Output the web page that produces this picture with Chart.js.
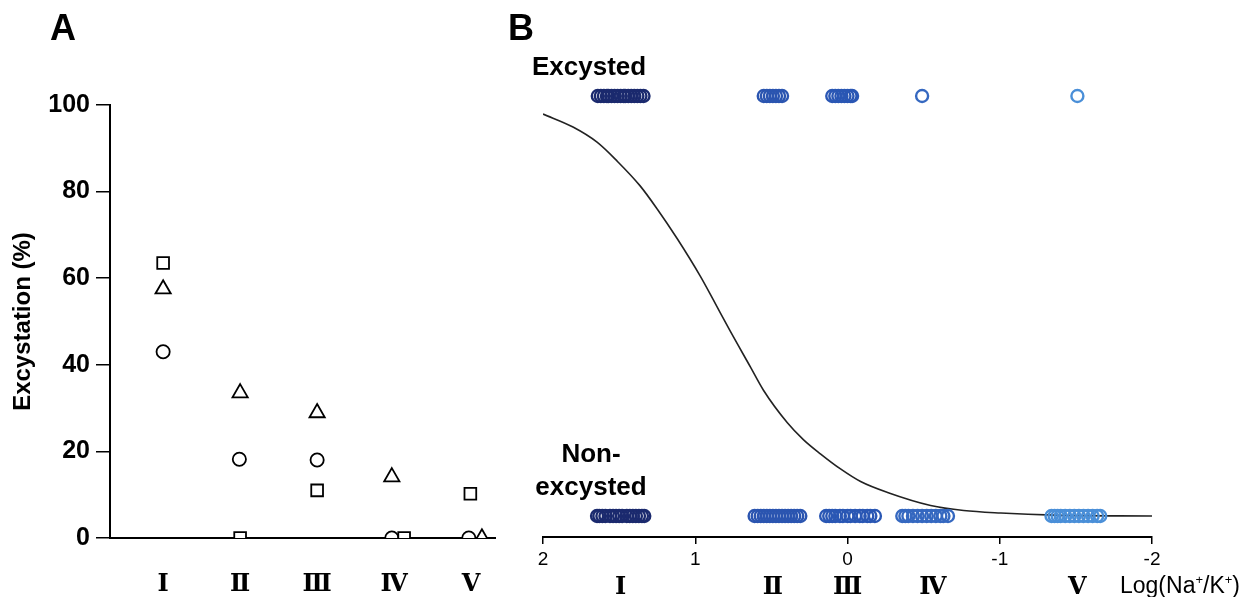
<!DOCTYPE html>
<html>
<head>
<meta charset="utf-8">
<script src="https://cdn.jsdelivr.net/npm/chart.js@4"></script>
<style>
  body { margin: 0; background: #fff; width: 1258px; height: 597px; position: relative; overflow: hidden; font-family: 'Liberation Sans', Arial, sans-serif; }
  .caja { position: absolute; top: 0; height: 597px; }
  .texto { position: absolute; color: #000; white-space: nowrap; }
  .letra { font-size: 36px; line-height: 36px; font-weight: bold; }
  .etiqueta { font-size: 26px; line-height: 26px; font-weight: bold; }
</style>
</head>
<body>
<div class="caja" style="left:0; width:520px;"><canvas id="graficoA"></canvas></div>
<div class="caja" style="left:520px; width:738px;"><canvas id="graficoB"></canvas></div>

<div class="texto letra" style="left:50px; top:10px;">A</div>
<div class="texto letra" style="left:508px; top:10px;">B</div>
<div class="texto etiqueta" style="left:532px; top:53px;">Excysted</div>
<div class="texto etiqueta" style="left:520px; top:437px; width:142px; text-align:center; line-height:33px;">Non-<br>excysted</div>
<div class="texto" style="left:1120px; top:569px; font-size:23px; line-height:22px;">Log(Na<sup style="font-size:13px;">+</sup>/K<sup style="font-size:13px;">+</sup>)</div>

<script>
// etapas
const etapas = ['Ⅰ', 'Ⅱ', 'Ⅲ', 'Ⅳ', 'Ⅴ'];
const posEtapasA = [1, 2, 3, 4, 5];
const ticksY_A = [0, 20, 40, 60, 80, 100];

// panel A: tres replicas
const cuadradoX = [1, 2, 3, 4.13, 4.99];
const cuadradoY = [63.5, 0, 11, 0, 10.2];
const trianguloX = [1, 2, 3, 3.97, 5.14];
const trianguloY = [57.5, 33.5, 28.9, 14.1, 0];
const circuloX = [1, 1.99, 3, 3.97, 4.97];
const circuloY = [43, 18.2, 18, 0, 0];

// panel B: Log(Na+/K+) de cada quiste
const ticksX_B = [2, 1, 0, -1, -2];
const posEtapasB = [1.49, 0.49, 0.0, -0.56, -1.51];
const excI = [1.64, 1.62, 1.60, 1.58, 1.57, 1.55, 1.53, 1.51, 1.49, 1.47, 1.46, 1.44, 1.42, 1.40, 1.38, 1.36, 1.34];
const noExcI = [1.645, 1.63, 1.61, 1.59, 1.56, 1.54, 1.52, 1.50, 1.48, 1.45, 1.43, 1.41, 1.39, 1.37, 1.35, 1.335];
const excII = [0.55, 0.53, 0.51, 0.49, 0.47, 0.45, 0.43];
const noExcII = [0.61, 0.59, 0.57, 0.55, 0.53, 0.51, 0.49, 0.47, 0.45, 0.43, 0.41, 0.39, 0.37, 0.35, 0.33, 0.31];
const excIII = [0.10, 0.08, 0.06, 0.04, 0.02, 0.0, -0.02, -0.03];
const noExcIII = [0.14, 0.12, 0.10, 0.08, 0.05, 0.03, 0.0, -0.02, -0.05, -0.08, -0.10, -0.13, -0.15, -0.18];
const excIV = [-0.49];
const noExcIV = [-0.36, -0.38, -0.40, -0.43, -0.46, -0.49, -0.52, -0.55, -0.58, -0.61, -0.63, -0.66];
const excV = [-1.51];
const noExcV = [-1.34, -1.36, -1.38, -1.40, -1.43, -1.46, -1.49, -1.52, -1.55, -1.58, -1.61, -1.64, -1.66];

// curva logistica ajustada
const curvaX = [2.0, 1.803, 1.645, 1.513, 1.362, 1.25, 1.118, 0.967, 0.882, 0.77, 0.638, 0.553, 0.395, 0.29, 0.178, 0.046, -0.086, -0.263, -0.546, -0.763, -1.007, -1.355, -2.0];
const curvaY = [0.957, 0.926, 0.89, 0.845, 0.786, 0.731, 0.66, 0.571, 0.515, 0.44, 0.355, 0.30, 0.222, 0.182, 0.148, 0.112, 0.082, 0.056, 0.025, 0.013, 0.007, 0.002, 0.0];

const coloresEtapa = ['#1b2a6e', '#2b55b0', '#2a57b4', '#3568c0', '#4a8fd8'];

Chart.defaults.font.family = "'Liberation Sans', Arial, sans-serif";
Chart.defaults.color = '#000';

function puntos(xs, ys) {
    return xs.map((x, i) => ({ x: x, y: ys[i] }));
}

function grupo(xs, y) {
    return xs.map(x => ({ x: x, y: y }));
}

const fuenteRomana = { family: "'DejaVu Serif', 'Liberation Serif', serif", size: 24, weight: 'bold' };

new Chart(document.getElementById('graficoA'), {
    type: 'scatter',
    data: {
        datasets: [
            { data: puntos(cuadradoX, cuadradoY), pointStyle: 'rect', pointRadius: 8.3, borderColor: '#000', backgroundColor: '#fff', borderWidth: 1.8 },
            { data: puntos(trianguloX, trianguloY), pointStyle: 'triangle', pointRadius: 8.8, borderColor: '#000', backgroundColor: '#fff', borderWidth: 1.8 },
            { data: puntos(circuloX, circuloY), pointStyle: 'circle', pointRadius: 6.6, borderColor: '#000', backgroundColor: '#fff', borderWidth: 1.8 }
        ]
    },
    options: {
        responsive: true,
        maintainAspectRatio: false,
        animation: false,
        layout: { padding: { left: 0, top: 105, right: 25, bottom: 0 } },
        plugins: { legend: { display: false }, tooltip: { enabled: false } },
        scales: {
            x: {
                type: 'linear',
                min: 0.31,
                max: 5.31,
                afterBuildTicks: (eje) => { eje.ticks = posEtapasA.map(v => ({ value: v })); },
                afterFit: (eje) => { eje.height = 59; },
                grid: { display: false },
                border: { display: true, color: '#000', width: 2 },
                ticks: {
                    padding: 24,
                    maxRotation: 0,
                    autoSkip: false,
                    font: fuenteRomana,
                    callback: (valor) => etapas[posEtapasA.indexOf(valor)]
                }
            },
            y: {
                min: 0,
                max: 100,
                afterBuildTicks: (eje) => { eje.ticks = ticksY_A.map(v => ({ value: v })); },
                afterFit: (eje) => { eje.width = 110; },
                grid: { drawOnChartArea: false, tickLength: 14, color: '#000', lineWidth: 1.5 },
                border: { display: true, color: '#000', width: 2 },
                ticks: { padding: 6, font: { size: 25, weight: 'bold' } },
                title: {
                    display: true,
                    text: 'Excystation (%)',
                    font: { size: 24, weight: 'bold' },
                    padding: { top: 9, bottom: 0 }
                }
            }
        }
    }
});

const conjuntosB = [];
const excPorEtapa = [excI, excII, excIII, excIV, excV];
const noExcPorEtapa = [noExcI, noExcII, noExcIII, noExcIV, noExcV];
excPorEtapa.forEach((xs, i) => {
    conjuntosB.push({
        data: grupo(xs, 1).concat(grupo(noExcPorEtapa[i], 0)),
        pointStyle: 'circle',
        pointRadius: 6,
        borderWidth: 2.4,
        borderColor: coloresEtapa[i],
        backgroundColor: 'rgba(0,0,0,0)'
    });
});
conjuntosB.push({
    data: puntos(curvaX, curvaY),
    showLine: true,
    pointRadius: 0,
    borderColor: '#222',
    borderWidth: 1.6,
    cubicInterpolationMode: 'monotone',
    fill: false
});

new Chart(document.getElementById('graficoB'), {
    type: 'scatter',
    data: { datasets: conjuntosB },
    options: {
        responsive: true,
        maintainAspectRatio: false,
        animation: false,
        layout: { padding: { left: 23, top: 75, right: 106, bottom: 0 } },
        plugins: { legend: { display: false }, tooltip: { enabled: false } },
        scales: {
            x: {
                type: 'linear',
                reverse: true,
                min: -2,
                max: 2,
                afterBuildTicks: (eje) => { eje.ticks = ticksX_B.map(v => ({ value: v })); },
                afterFit: (eje) => { eje.height = 28; },
                grid: { drawOnChartArea: false, tickLength: 7, color: '#000', lineWidth: 1.5 },
                border: { display: true, color: '#000', width: 2 },
                ticks: { padding: 4, maxRotation: 0, font: { size: 19 } }
            },
            x2: {
                type: 'linear',
                position: 'bottom',
                reverse: true,
                min: -2,
                max: 2,
                afterBuildTicks: (eje) => { eje.ticks = posEtapasB.map(v => ({ value: v })); },
                afterFit: (eje) => { eje.height = 32; },
                grid: { display: false },
                border: { display: false },
                ticks: {
                    padding: 0,
                    maxRotation: 0,
                    autoSkip: false,
                    font: fuenteRomana,
                    callback: (valor) => etapas[posEtapasB.indexOf(valor)]
                }
            },
            y: {
                display: false,
                min: -0.05,
                max: 1.05
            }
        }
    }
});
</script>
</body>
</html>
